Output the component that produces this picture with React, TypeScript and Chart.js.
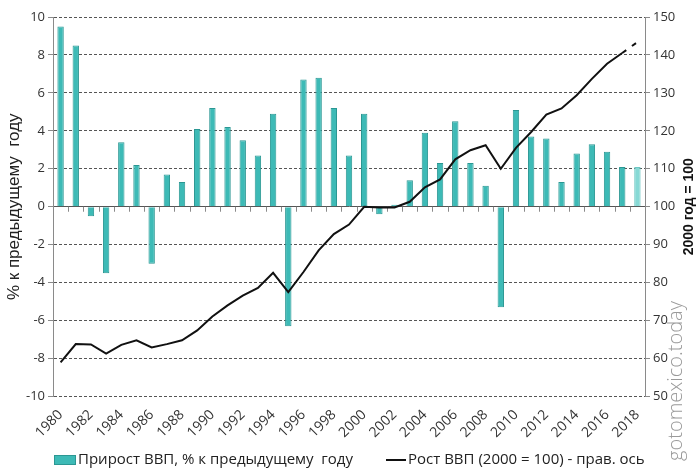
import React, { useEffect, useRef } from "react";
import { Chart, registerables } from "chart.js";

Chart.register(...registerables);

const years: string[] = [
  "1980","1981","1982","1983","1984","1985","1986","1987","1988","1989",
  "1990","1991","1992","1993","1994","1995","1996","1997","1998","1999",
  "2000","2001","2002","2003","2004","2005","2006","2007","2008","2009",
  "2010","2011","2012","2013","2014","2015","2016","2017","2018",
];

const gdpGrowth: number[] = [
  9.5, 8.5, -0.5, -3.5, 3.4, 2.2, -3.0, 1.7, 1.3, 4.1,
  5.2, 4.2, 3.5, 2.7, 4.9, -6.3, 6.7, 6.8, 5.2, 2.7,
  4.9, -0.4, 0.1, 1.4, 3.9, 2.3, 4.5, 2.3, 1.1, -5.3,
  5.1, 3.7, 3.6, 1.3, 2.8, 3.3, 2.9, 2.1, 2.1,
];

const gdpIndex: number[] = [
  59.0, 63.8, 63.7, 61.3, 63.6, 64.8, 62.9, 63.8, 64.8, 67.4,
  71.1, 74.0, 76.6, 78.6, 82.6, 77.5, 82.8, 88.5, 92.8, 95.3,
  100, 99.8, 99.8, 101.3, 105.1, 107.2, 112.5, 114.9, 116.2, 110.0,
  115.5, 119.7, 124.3, 125.9, 129.4, 133.7, 137.7, 140.5, 143.4,
];

const leftTicks = { min: -10, max: 10, step: 2 };
const rightTicks = { min: 50, max: 150, step: 10 };

const barLabel = "Прирост ВВП, % к предыдущему  году";
const lineLabel = "Рост ВВП (2000 = 100) - прав. ось";
const leftTitle = "% к предыдущему  году";
const rightTitle = "2000 год = 100";
const watermark = "gotomexico.today";

const FONT = "'Open Sans', 'DejaVu Sans', sans-serif";
const BAR_FILL = "#3dbab6";
const BAR_BORDER = "#2b9793";

const extrasPlugin = {
  id: "extras",
  beforeDatasetsDraw(chart: any) {
    const { ctx } = chart;
    const xs = chart.scales.x;
    const ys = chart.scales.y;
    const y0 = ys.getPixelForValue(0);
    ctx.save();
    ctx.strokeStyle = "#8a8a8a";
    ctx.lineWidth = 1;
    ctx.beginPath();
    for (let i = 1; i < years.length; i++) {
      const x = Math.round((xs.getPixelForValue(i - 1) + xs.getPixelForValue(i)) / 2) + 0.5;
      ctx.moveTo(x, y0);
      ctx.lineTo(x, y0 + 5);
    }
    ctx.stroke();
    ctx.restore();
  },
  afterDraw(chart: any) {
    const { ctx, chartArea } = chart;
    // right axis title (reads bottom-to-top)
    ctx.save();
    ctx.translate(689, (chartArea.top + chartArea.bottom) / 2);
    ctx.rotate(-Math.PI / 2);
    ctx.textAlign = "center";
    ctx.textBaseline = "middle";
    ctx.fillStyle = "#111";
    ctx.font = "bold 14px 'Liberation Sans', sans-serif";
    ctx.fillText(rightTitle, 0, 0);
    ctx.restore();

    // watermark
    ctx.save();
    ctx.translate(676, 381);
    ctx.rotate(-Math.PI / 2);
    ctx.textAlign = "center";
    ctx.textBaseline = "middle";
    ctx.fillStyle = "#9a9a9a";
    ctx.font = "300 20px 'Open Sans', sans-serif";
    ctx.fillText(watermark, 0, 0);
    ctx.restore();

    // legend
    ctx.save();
    ctx.font = "15px " + FONT;
    ctx.textBaseline = "middle";
    ctx.textAlign = "left";
    const boxW = 22, lineW = 20, gapText = 2, gapItems = 33;
    const w1 = ctx.measureText(barLabel).width;
    const w2 = ctx.measureText(lineLabel).width;
    const total = boxW + gapText + w1 + gapItems + lineW + gapText + w2;
    const cx = (chartArea.left + chartArea.right) / 2;
    let x = Math.round(cx - total / 2);
    const y = 460;
    ctx.fillStyle = BAR_FILL;
    ctx.fillRect(x, y - 5, boxW, 10);
    ctx.strokeStyle = BAR_BORDER;
    ctx.lineWidth = 1;
    ctx.strokeRect(x + 0.5, y - 4.5, boxW - 1, 9);
    x += boxW + gapText;
    ctx.fillStyle = "#222";
    ctx.fillText(barLabel, x, y);
    x += w1 + gapItems;
    ctx.strokeStyle = "#111";
    ctx.lineWidth = 2;
    ctx.beginPath();
    ctx.moveTo(x, y);
    ctx.lineTo(x + lineW, y);
    ctx.stroke();
    x += lineW + gapText;
    ctx.fillText(lineLabel, x, y);
    ctx.restore();
  },
};

export default function App() {
  const ref = useRef<HTMLCanvasElement | null>(null);

  useEffect(() => {
    if (!ref.current) return;
    const n = gdpGrowth.length;
    const barFill = gdpGrowth.map((_, i) => (i === n - 1 ? "#86d9d5" : BAR_FILL));
    const barBorder = gdpGrowth.map((_, i) => (i === n - 1 ? "#6cc7c3" : BAR_BORDER));

    const chart = new Chart(ref.current, {
      type: "bar",
      data: {
        labels: years,
        datasets: [
          {
            type: "line",
            label: lineLabel,
            data: gdpIndex,
            yAxisID: "y1",
            borderColor: "#111111",
            backgroundColor: "#111111",
            borderWidth: 2,
            pointRadius: 0,
            tension: 0,
            order: 0,
            segment: {
              borderDash: (c: any) => (c.p1DataIndex === gdpIndex.length - 1 ? [5, 7] : undefined),
            },
          } as any,
          {
            type: "bar",
            label: barLabel,
            data: gdpGrowth,
            yAxisID: "y",
            backgroundColor: barFill,
            borderColor: barBorder,
            borderWidth: 1,
            categoryPercentage: 1,
            barPercentage: 0.42,
            order: 1,
          } as any,
        ],
      },
      options: {
        animation: false,
        responsive: true,
        maintainAspectRatio: false,
        layout: { padding: { top: 17, left: 0, right: 0, bottom: 19 } },
        plugins: {
          tooltip: { enabled: false },
          legend: { display: false },
        },
        scales: {
          x: {
            type: "category",
            offset: true,
            grid: { display: false, drawTicks: false },
            border: { display: false },
            ticks: {
              autoSkip: false,
              maxRotation: 45,
              minRotation: 45,
              padding: 10,
              color: "#333",
              font: { family: FONT, size: 14 },
              callback: (_v: any, i: number) => (i % 2 === 0 ? years[i] : ""),
            },
          },
          y: {
            position: "left",
            min: leftTicks.min,
            max: leftTicks.max,
            ticks: {
              stepSize: leftTicks.step,
              color: "#333",
              padding: 3,
              font: { family: FONT, size: 13 },
            },
            grid: {
              color: "#555",
              lineWidth: 1,
              tickLength: 5,
              tickColor: "#8a8a8a",
            },
            border: {
              display: true,
              color: "#8a8a8a",
              dash: (c: any) => (c.tick && c.tick.value === 0 ? [] : [3, 2]),
            },
            title: {
              display: true,
              text: leftTitle,
              color: "#222",
              padding: { top: 4, bottom: 0 },
              font: { family: "'Liberation Sans', sans-serif", size: 17 },
            },
            afterFit: (s: any) => {
              s.width = 53;
            },
          } as any,
          y1: {
            position: "right",
            min: rightTicks.min,
            max: rightTicks.max,
            ticks: {
              stepSize: rightTicks.step,
              color: "#333",
              padding: 3,
              font: { family: FONT, size: 13 },
            },
            grid: {
              drawOnChartArea: false,
              tickLength: 5,
              tickColor: "#8a8a8a",
            },
            border: { display: true, color: "#8a8a8a" },
            afterFit: (s: any) => {
              s.width = 55;
            },
          } as any,
        },
      },
      plugins: [extrasPlugin],
    });
    return () => chart.destroy();
  }, []);

  return (
    <div style={{ position: "fixed", left: 0, top: 0, width: 700, height: 470, background: "#fff" }}>
      <canvas ref={ref} />
    </div>
  );
}
